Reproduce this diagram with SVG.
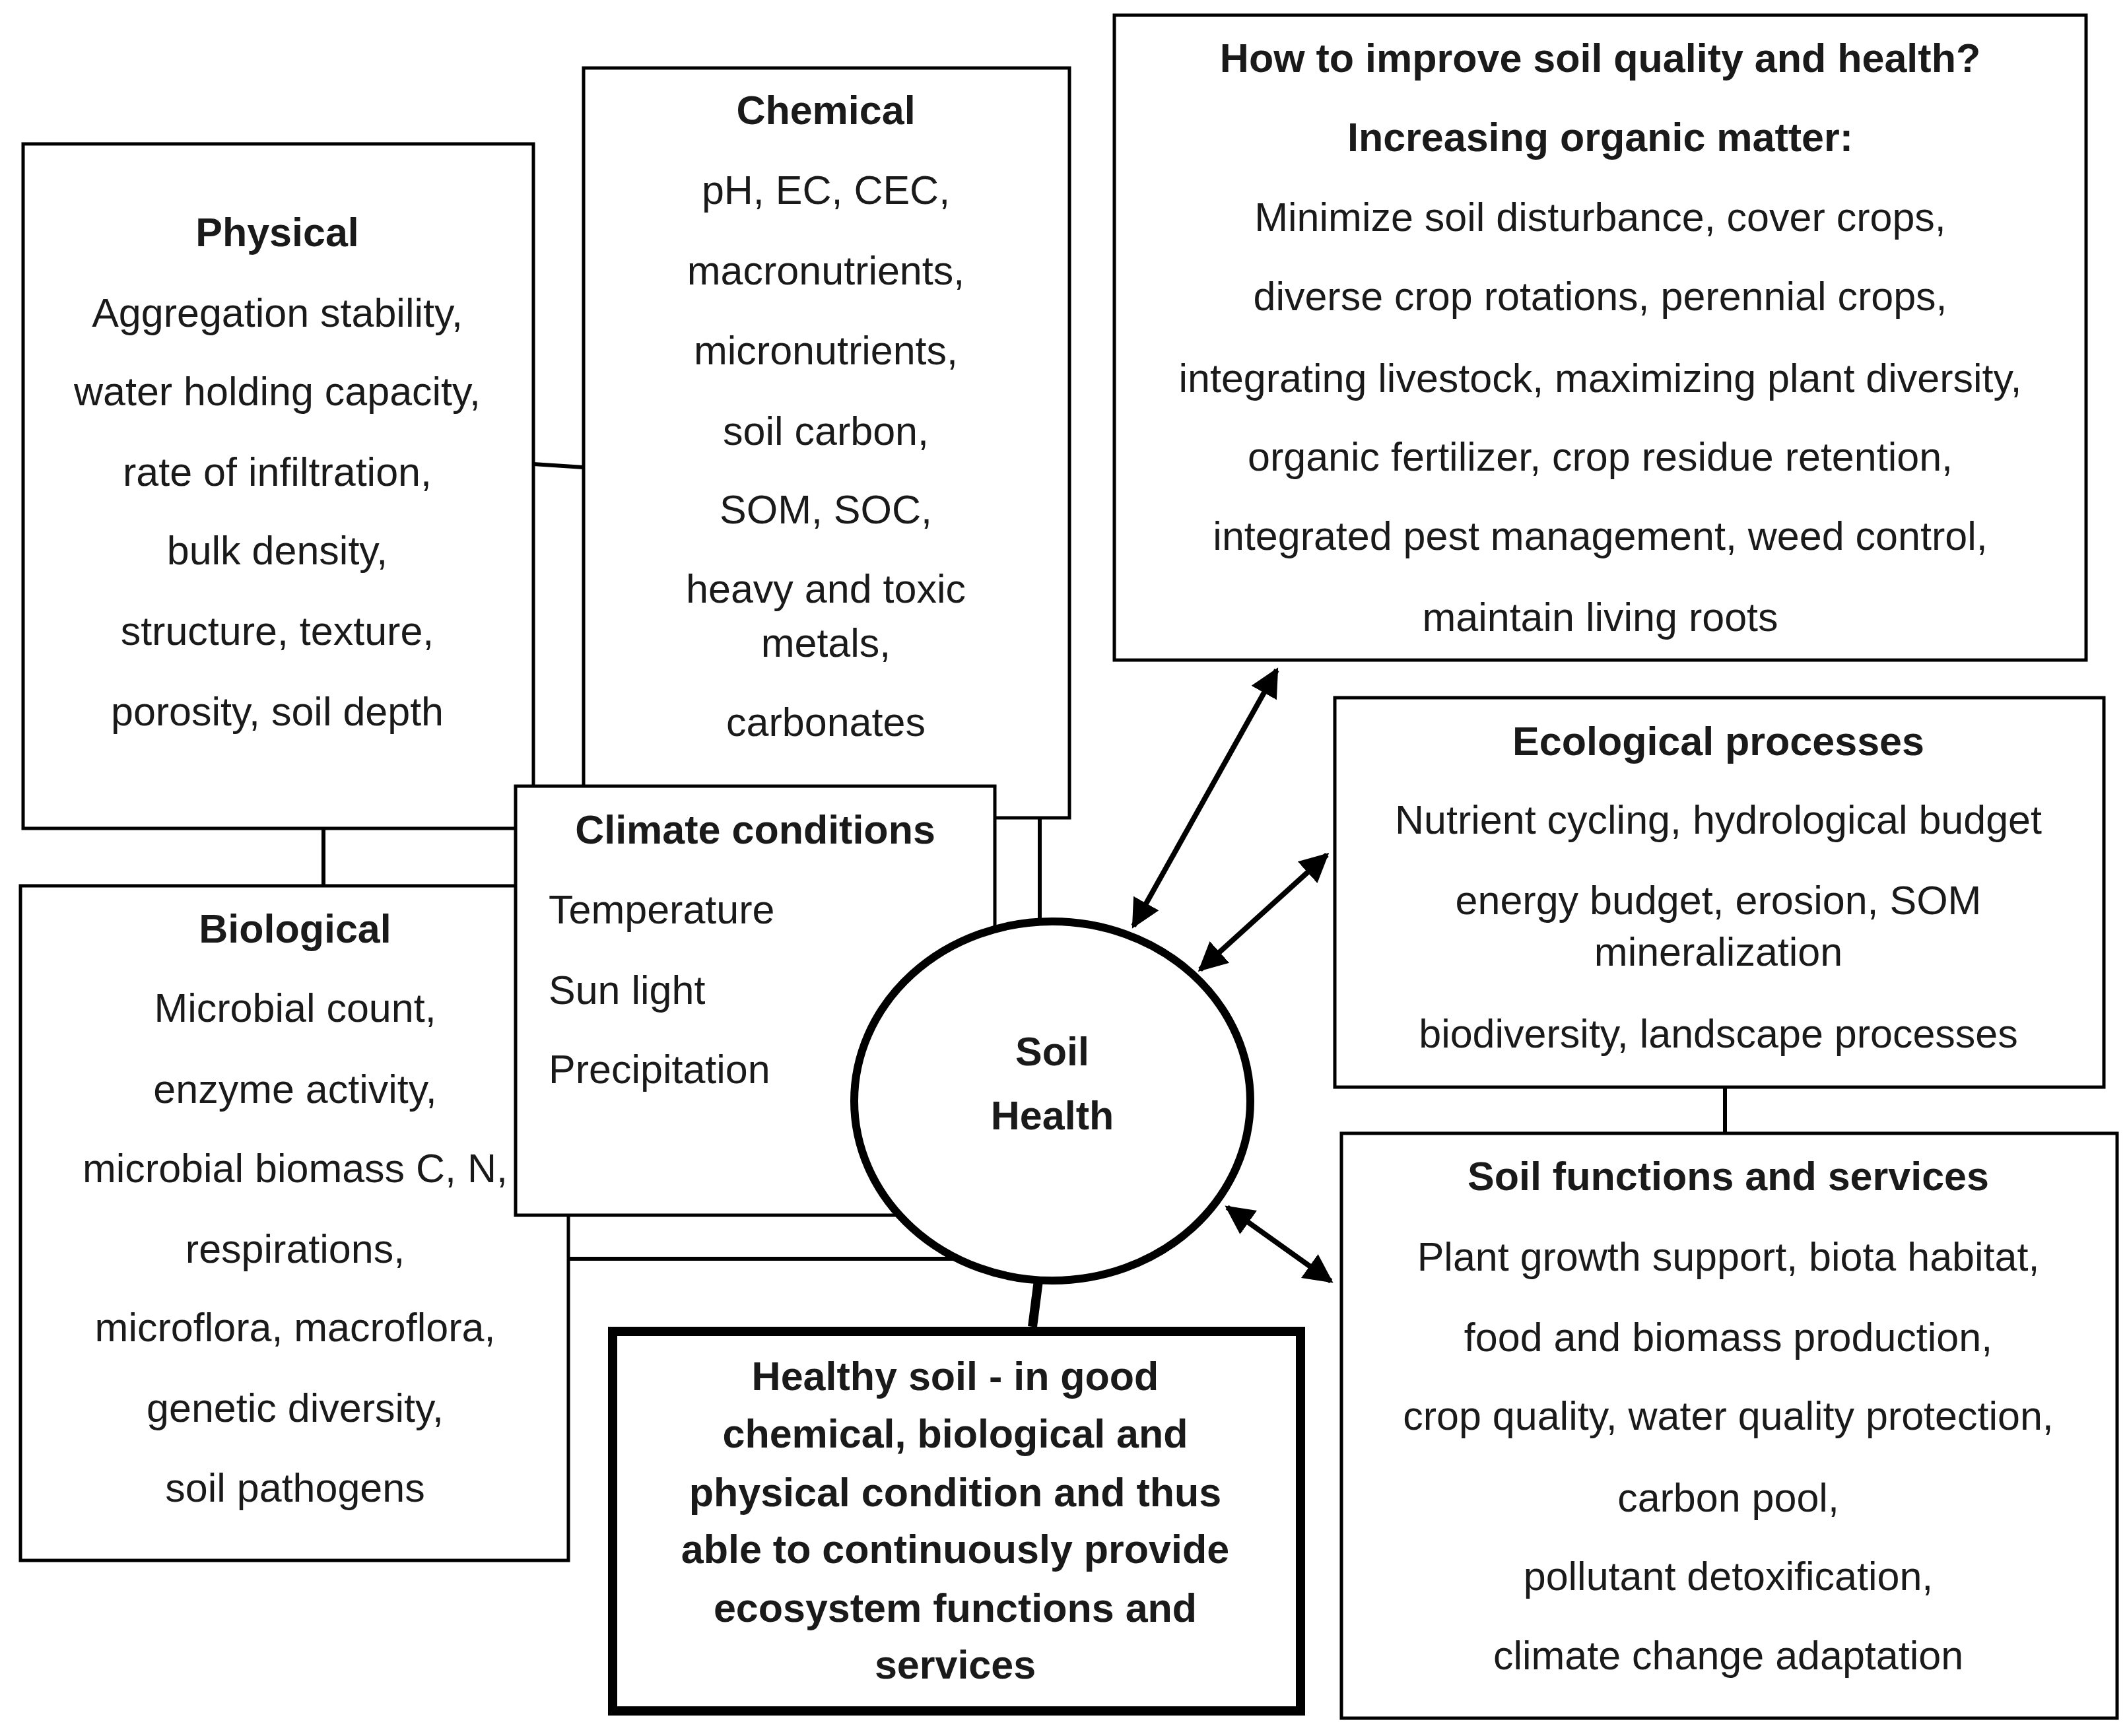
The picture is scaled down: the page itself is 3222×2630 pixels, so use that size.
<svg xmlns="http://www.w3.org/2000/svg" width="3222" height="2630" viewBox="0 0 3222 2630">
<style>
.b{fill:#fff;stroke:#000;stroke-width:5}
text{font-family:"Liberation Sans",Arial,sans-serif;font-size:61px;fill:#1a1a1a;text-anchor:middle}
.h{font-weight:bold}
.l{text-anchor:start}
.c{stroke:#000;stroke-width:6;fill:none}
.a{stroke:#000;stroke-width:8;fill:none;marker-start:url(#m);marker-end:url(#m)}
</style>
<defs>
<marker id="m" viewBox="0 0 10 10" refX="9" refY="5" markerWidth="5.5" markerHeight="5.5" orient="auto-start-reverse" markerUnits="strokeWidth"><path d="M0,0 L10,5 L0,10 z" fill="#000"/></marker>
</defs>
<rect width="3222" height="2630" fill="#fff"/>
<g id="connectors">
<line class="c" x1="808" y1="703" x2="884" y2="708"/>
<line class="c" x1="490" y1="1255" x2="490" y2="1342"/>
<line class="c" x1="1575" y1="1239" x2="1575" y2="1402"/>
<line class="c" x1="861" y1="1907" x2="1450" y2="1907"/>
<line class="c" x1="2613" y1="1647" x2="2613" y2="1717"/>
<line x1="1573" y1="1940" x2="1564" y2="2010" stroke="#000" stroke-width="14"/>
<line class="a" x1="1717" y1="1403" x2="1934" y2="1015"/>
<line class="a" x1="1818" y1="1469" x2="2010" y2="1295"/>
<line class="a" x1="1859" y1="1829" x2="2016" y2="1941"/>
</g>
<g id="physical"><rect class="b" x="35" y="218" width="773" height="1037"/></g>
<g id="chemical"><rect class="b" x="884" y="103" width="736" height="1136"/></g>
<g id="biological"><rect class="b" x="31" y="1342" width="830" height="1022"/></g>
<g id="climate"><rect class="b" x="781" y="1191" width="726" height="650"/></g>
<g id="physical-text">
<text class="h" x="420" y="373">Physical</text>
<text x="420" y="495">Aggregation stability,</text>
<text x="420" y="614">water holding capacity,</text>
<text x="420" y="736">rate of infiltration,</text>
<text x="420" y="855">bulk density,</text>
<text x="420" y="977">structure, texture,</text>
<text x="420" y="1099">porosity, soil depth</text>
</g>
<g id="chemical-text">
<text class="h" x="1251" y="188">Chemical</text>
<text x="1251" y="309">pH, EC, CEC,</text>
<text x="1251" y="431">macronutrients,</text>
<text x="1251" y="552">micronutrients,</text>
<text x="1251" y="674">soil carbon,</text>
<text x="1251" y="793">SOM, SOC,</text>
<text x="1251" y="913">heavy and toxic</text>
<text x="1251" y="995">metals,</text>
<text x="1251" y="1115">carbonates</text>
</g>
<g id="climate-text">
<text class="h" x="1144" y="1278">Climate conditions</text>
<text class="l" x="831" y="1399">Temperature</text>
<text class="l" x="831" y="1521">Sun light</text>
<text class="l" x="831" y="1641">Precipitation</text>
</g>
<g id="biological-text">
<text class="h" x="447" y="1428">Biological</text>
<text x="447" y="1548">Microbial count,</text>
<text x="447" y="1671">enzyme activity,</text>
<text x="447" y="1791">microbial biomass C, N,</text>
<text x="447" y="1913">respirations,</text>
<text x="447" y="2032">microflora, macroflora,</text>
<text x="447" y="2154">genetic diversity,</text>
<text x="447" y="2275">soil pathogens</text>
</g>
<g id="soil-health">
<ellipse cx="1594" cy="1668" rx="300" ry="272" fill="#fff" stroke="#000" stroke-width="12"/>
<text class="h" x="1594" y="1614">Soil</text>
<text class="h" x="1594" y="1711">Health</text>
</g>
<g id="improve">
<rect class="b" x="1688" y="23" width="1472" height="977"/>
<text class="h" x="2424" y="109">How to improve soil quality and health?</text>
<text class="h" x="2424" y="229">Increasing organic matter:</text>
<text x="2424" y="350">Minimize soil disturbance, cover crops,</text>
<text x="2424" y="470">diverse crop rotations, perennial crops,</text>
<text x="2424" y="594">integrating livestock, maximizing plant diversity,</text>
<text x="2424" y="713">organic fertilizer, crop residue retention,</text>
<text x="2424" y="833">integrated pest management, weed control,</text>
<text x="2424" y="956">maintain living roots</text>
</g>
<g id="ecological">
<rect class="b" x="2022" y="1057" width="1165" height="590"/>
<text class="h" x="2603" y="1144">Ecological processes</text>
<text x="2603" y="1263">Nutrient cycling, hydrological budget</text>
<text x="2603" y="1385">energy budget, erosion, SOM</text>
<text x="2603" y="1463">mineralization</text>
<text x="2603" y="1587">biodiversity, landscape processes</text>
</g>
<g id="functions">
<rect class="b" x="2032" y="1717" width="1175" height="886"/>
<text class="h" x="2618" y="1803">Soil functions and services</text>
<text x="2618" y="1925">Plant growth support, biota habitat,</text>
<text x="2618" y="2047">food and biomass production,</text>
<text x="2618" y="2166">crop quality, water quality protection,</text>
<text x="2618" y="2290">carbon pool,</text>
<text x="2618" y="2409">pollutant detoxification,</text>
<text x="2618" y="2529">climate change adaptation</text>
</g>
<g id="healthy">
<rect x="928" y="2017" width="1042" height="575" fill="#fff" stroke="#000" stroke-width="14"/>
<text class="h" x="1447" y="2106">Healthy soil - in good</text>
<text class="h" x="1447" y="2193">chemical, biological and</text>
<text class="h" x="1447" y="2282">physical condition and thus</text>
<text class="h" x="1447" y="2368">able to continuously provide</text>
<text class="h" x="1447" y="2457">ecosystem functions and</text>
<text class="h" x="1447" y="2543">services</text>
</g>
</svg>
